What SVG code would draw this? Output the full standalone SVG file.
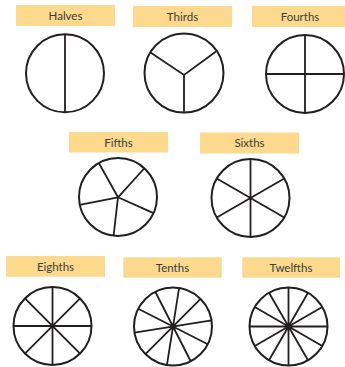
<svg xmlns="http://www.w3.org/2000/svg" width="345" height="367" viewBox="0 0 345 367">
<style>
.lab{fill:#FCD98C}
.t{font-family:Lato,"Open Sans","Liberation Sans",sans-serif;font-size:11.5px;fill:#3d3d3d;text-anchor:middle}
.c{fill:#fff;stroke:#231f20;stroke-width:2}
.s{stroke:#231f20;stroke-width:1.8;fill:none;stroke-linecap:butt}
</style>
<rect width="345" height="367" fill="#fff"/>
<g id="halves">
<rect class="lab" x="16" y="5" width="99" height="21"/>
<text class="t" x="65.5" y="20">Halves</text>
<circle class="c" cx="65" cy="73.3" r="39"/>
<path class="s" d="M65 34.3V112.3"/>
</g>
<g id="thirds">
<rect class="lab" x="133" y="6" width="99" height="21"/>
<text class="t" x="182.5" y="21">Thirds</text>
<circle class="c" cx="184" cy="73" r="39.5"/>
<path class="s" d="M150.5 52.5L184 75L216 51.5M184 75V112.5"/>
</g>
<g id="fourths">
<rect class="lab" x="252" y="6" width="98" height="21"/>
<text class="t" x="300" y="21">Fourths</text>
<circle class="c" cx="305" cy="74" r="39"/>
<path class="s" d="M305 35V113M266 74H344"/>
</g>
<g id="fifths">
<rect class="lab" x="69" y="132" width="99" height="20.5"/>
<text class="t" x="118.5" y="146.5">Fifths</text>
<circle class="c" cx="118" cy="197" r="39"/>
<path class="s" d="M118 197.3L98.8 163.05M118 197.3L144.35 168.25M118 197.3L153.49 213.17M118 197.3L113.59 235.75M118 197.3L79.78 204.78"/>
</g>
<g id="sixths">
<rect class="lab" x="200" y="132.5" width="99" height="21"/>
<text class="t" x="249.5" y="147">Sixths</text>
<circle class="c" cx="250.5" cy="198" r="39"/>
<path class="s" d="M250.5 159V237M216.73 178.5L284.27 217.5M216.73 217.5L284.27 178.5"/>
</g>
<g id="eighths">
<rect class="lab" x="6" y="256" width="99" height="20.7"/>
<text class="t" x="55.5" y="270.5">Eighths</text>
<circle class="c" cx="52.5" cy="326" r="39"/>
<path class="s" d="M13.5 326H91.5M52.5 287V365M24.92 298.42L80.08 353.58M24.92 353.58L80.08 298.42"/>
</g>
<g id="tenths">
<rect class="lab" x="123.3" y="257.3" width="98.4" height="20.4"/>
<text class="t" x="172.5" y="272">Tenths</text>
<circle class="c" cx="173" cy="326.5" r="39"/>
<path class="s" d="M211.52 320.4L134.48 332.6M207.75 344.21L138.25 308.79M190.71 361.25L155.29 291.75M166.9 365.02L179.1 287.98M145.42 354.08L200.58 298.92"/>
</g>
<g id="twelfths">
<rect class="lab" x="242.3" y="257.3" width="97.7" height="20.4"/>
<text class="t" x="291" y="272">Twelfths</text>
<circle class="c" cx="288.5" cy="326.5" r="39"/>
<path class="s" d="M249.5 326.5H327.5M288.5 287.5V365.5M322.27 346L254.73 307M308 360.27L269 292.73M269 360.27L308 292.73M254.73 346L322.27 307"/>
</g>
</svg>
